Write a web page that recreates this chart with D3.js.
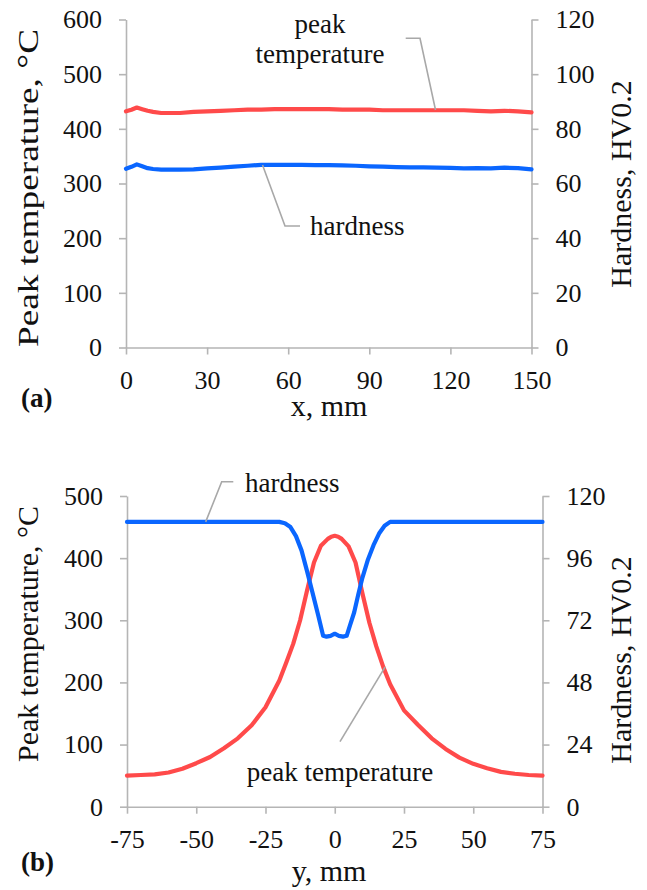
<!DOCTYPE html>
<html>
<head>
<meta charset="utf-8">
<script src="https://cdn.jsdelivr.net/npm/d3@7"></script>
<style>
  html, body { margin: 0; padding: 0; background: #fff; }
  svg { display: block; }
  svg text { font-family: 'Liberation Serif', 'Times New Roman', Times, serif !important; fill: #111; }
</style>
</head>
<body>
<svg id="fig" width="647" height="890"></svg>
<script>
// (a) along the weld line, x in mm
const xA = [0, 2, 4, 6, 8, 10, 13, 16, 20, 25, 30, 35, 40, 45, 50, 55, 60, 65, 70, 75,
            80, 85, 90, 95, 100, 105, 110, 115, 120, 125, 130, 135, 140, 145, 150];
const tempA = [432, 435, 439, 436, 433, 431, 429, 429, 429, 431, 432, 433, 434, 435, 435, 436, 436, 436, 436, 436,
               435, 435, 435, 434, 434, 434, 434, 434, 434, 434, 433, 432, 433, 432, 430];
const hardA = [65.4, 66.1, 67.0, 66.3, 65.6, 65.3, 65.1, 65.1, 65.1, 65.2, 65.5, 65.8, 66.2, 66.5, 66.8, 66.8, 66.8, 66.8, 66.7, 66.7,
               66.6, 66.5, 66.3, 66.2, 66.0, 65.9, 65.9, 65.8, 65.7, 65.5, 65.6, 65.5, 65.8, 65.6, 65.2];

// (b) across the weld, y in mm
const yTemp = [-75, -70, -65, -60, -55, -50, -45, -40, -35, -30, -25, -20, -17.5, -15, -12.5, -10, -7.5, -5, -2.5, -1.25, 0,
               1.25, 2.5, 5, 7.5, 10, 12.5, 15, 17.5, 20, 25, 30, 35, 40, 45, 50, 55, 60, 65, 70, 75];
const tempB = [50, 51, 52, 55, 61, 70, 80, 94, 110, 131, 160, 203, 232, 262, 300, 348, 393, 420, 431, 434.5, 436,
               434.5, 431, 419, 393, 343, 296, 258, 225, 197, 155, 132, 110, 93, 79, 69, 62, 56, 53, 51, 50];
const yHard = [-75, -20, -18, -16, -14, -12, -10, -8, -6, -4.2, -3, -1.5, 0, 1.5, 3, 4.3, 5.5, 7, 8.5, 10,
               12, 14, 16, 18, 20, 75];
const hardB = [110, 110, 109.5, 108, 104.5, 99, 91, 82.5, 74, 66, 65.7, 66, 66.8, 66, 65.7, 66, 70, 75, 82, 88.5,
               95.5, 101, 105.5, 108.5, 110, 110];

// axis ticks
const xTicksA = [0, 30, 60, 90, 120, 150];
const tempTicksA = [0, 100, 200, 300, 400, 500, 600];
const hardTicksA = [0, 20, 40, 60, 80, 100, 120];
const xTicksB = [-75, -50, -25, 0, 25, 50, 75];
const tempTicksB = [0, 100, 200, 300, 400, 500];
const hardTicksB = [0, 24, 48, 72, 96, 120];

const RED = "#ff4a4a", BLUE = "#0a66ff", AXIS = "#b5b5b5", LEADER = "#a8a8a8";
const SERIF = "'Liberation Serif', 'Times New Roman', Times, serif";

const svg = d3.select("#fig");

function panel(p) {
  const g = svg.append("g");
  const x = d3.scaleLinear().domain(p.xDomain).range([p.left, p.right]);
  const yL = d3.scaleLinear().domain(p.tempDomain).range([p.bottom, p.top]);
  const yR = d3.scaleLinear().domain(p.hardDomain).range([p.bottom, p.top]);
  const fmt = d => String(d);   // plain hyphen for negatives

  function style(ax) {
    ax.attr("font-family", SERIF).attr("font-size", 26);
    ax.selectAll("path.domain").attr("stroke", AXIS).attr("stroke-width", 1.6);
    ax.selectAll(".tick line").attr("stroke", AXIS).attr("stroke-width", 1.6);
    ax.selectAll(".tick text").style("font-family", SERIF).style("font-size", "26px").attr("fill", "#111");
  }

  g.append("g").attr("transform", `translate(${p.left},0)`)
    .call(d3.axisLeft(yL).tickValues(p.tempTicks).tickFormat(fmt).tickSize(7).tickSizeOuter(0).tickPadding(17))
    .call(style);
  g.append("g").attr("transform", `translate(${p.right},0)`)
    .call(d3.axisRight(yR).tickValues(p.hardTicks).tickFormat(fmt).tickSize(7).tickSizeOuter(0).tickPadding(17))
    .call(style);
  g.append("g").attr("transform", `translate(0,${p.bottom})`)
    .call(d3.axisBottom(x).tickValues(p.xTicks).tickFormat(fmt).tickSize(7).tickSizeOuter(0).tickPadding(16))
    .call(style);

  const lineT = d3.line().x(d => x(d[0])).y(d => yL(d[1]));
  const lineH = d3.line().x(d => x(d[0])).y(d => yR(d[1]));

  g.append("path").datum(d3.zip(p.tempX, p.temp)).attr("d", lineT)
    .attr("fill", "none").attr("stroke", RED).attr("stroke-width", 4.2)
    .attr("stroke-linejoin", "round").attr("stroke-linecap", "round");
  g.append("path").datum(d3.zip(p.hardX, p.hard)).attr("d", lineH)
    .attr("fill", "none").attr("stroke", BLUE).attr("stroke-width", 4.2)
    .attr("stroke-linejoin", "round").attr("stroke-linecap", "round");

  const label = (sel, size) => sel.style("font-family", SERIF).style("font-size", size + "px");

  // axis titles
  const lt = g.append("text").attr("transform", `translate(${p.leftTitleX},${p.leftTitleY}) rotate(-90)`)
    .attr("text-anchor", "middle").call(label, 30).text("Peak temperature, °C");
  if (p.leftTitleLength) lt.attr("textLength", p.leftTitleLength).attr("lengthAdjust", "spacingAndGlyphs");
  g.append("text").attr("transform", `translate(${p.rightTitleX},${p.rightTitleY}) rotate(-90)`)
    .attr("text-anchor", "middle").call(label, 30).text("Hardness, HV0.2");
  g.append("text").attr("x", p.xTitleX).attr("y", p.xTitleY)
    .attr("text-anchor", "middle").call(label, 30).text(p.xTitle);
  g.append("text").attr("x", 21).attr("y", p.tagY)
    .call(label, 27).attr("font-weight", "bold").text(p.tag);

  // callouts: label plus a bent leader line to the curve it names
  p.callouts.forEach(c => {
    const pts = c.leader.map(([vx, vy, axis]) => [x(vx), axis === "T" ? yL(vy) : yR(vy)]);
    const path = [[c.lx, c.ly], [c.kx, c.ly], pts[0]];
    g.append("path").attr("d", d3.line()(path)).attr("fill", "none")
      .attr("stroke", LEADER).attr("stroke-width", 1.6);
    c.lines.forEach((t, i) => {
      g.append("text").attr("x", c.tx).attr("y", c.ty + i * 30)
        .attr("text-anchor", c.anchor).call(label, 27).text(t);
    });
  });
}

panel({
  left: 126, right: 531.5, top: 19.5, bottom: 347.5,
  xDomain: [0, 150], tempDomain: [0, 600], hardDomain: [0, 120],
  xTicks: xTicksA, tempTicks: tempTicksA, hardTicks: hardTicksA,
  tempX: xA, temp: tempA, hardX: xA, hard: hardA,
  leftTitleX: 38, leftTitleY: 188, leftTitleLength: 318, rightTitleX: 631, rightTitleY: 184,
  xTitle: "x, mm", xTitleX: 329, xTitleY: 416, tag: "(a)", tagY: 407,
  callouts: [
    { lines: ["peak", "temperature"], tx: 320, ty: 33, anchor: "middle",
      lx: 405.7, ly: 38.3, kx: 420, leader: [[114.5, 434.5, "T"]] },
    { lines: ["hardness"], tx: 310, ty: 235, anchor: "start",
      lx: 300, ly: 226, kx: 285, leader: [[50.5, 66.8, "H"]] }
  ]
});

panel({
  left: 127, right: 542.5, top: 496, bottom: 806.7,
  xDomain: [-75, 75], tempDomain: [0, 500], hardDomain: [0, 120],
  xTicks: xTicksB, tempTicks: tempTicksB, hardTicks: hardTicksB,
  tempX: yTemp, temp: tempB, hardX: yHard, hard: hardB,
  leftTitleX: 38, leftTitleY: 634, rightTitleX: 631, rightTitleY: 660,
  xTitle: "y, mm", xTitleX: 329, xTitleY: 881, tag: "(b)", tagY: 871,
  callouts: [
    { lines: ["hardness"], tx: 245, ty: 491.7, anchor: "start",
      lx: 233.3, ly: 481.7, kx: 221.7, leader: [[-46.6, 110, "H"]] },
    { lines: ["peak temperature"], tx: 340, ty: 780.7, anchor: "middle",
      lx: 340, ly: 741.7, kx: 340, leader: [[18.2, 225, "T"]] }
  ]
});
</script>
</body>
</html>
